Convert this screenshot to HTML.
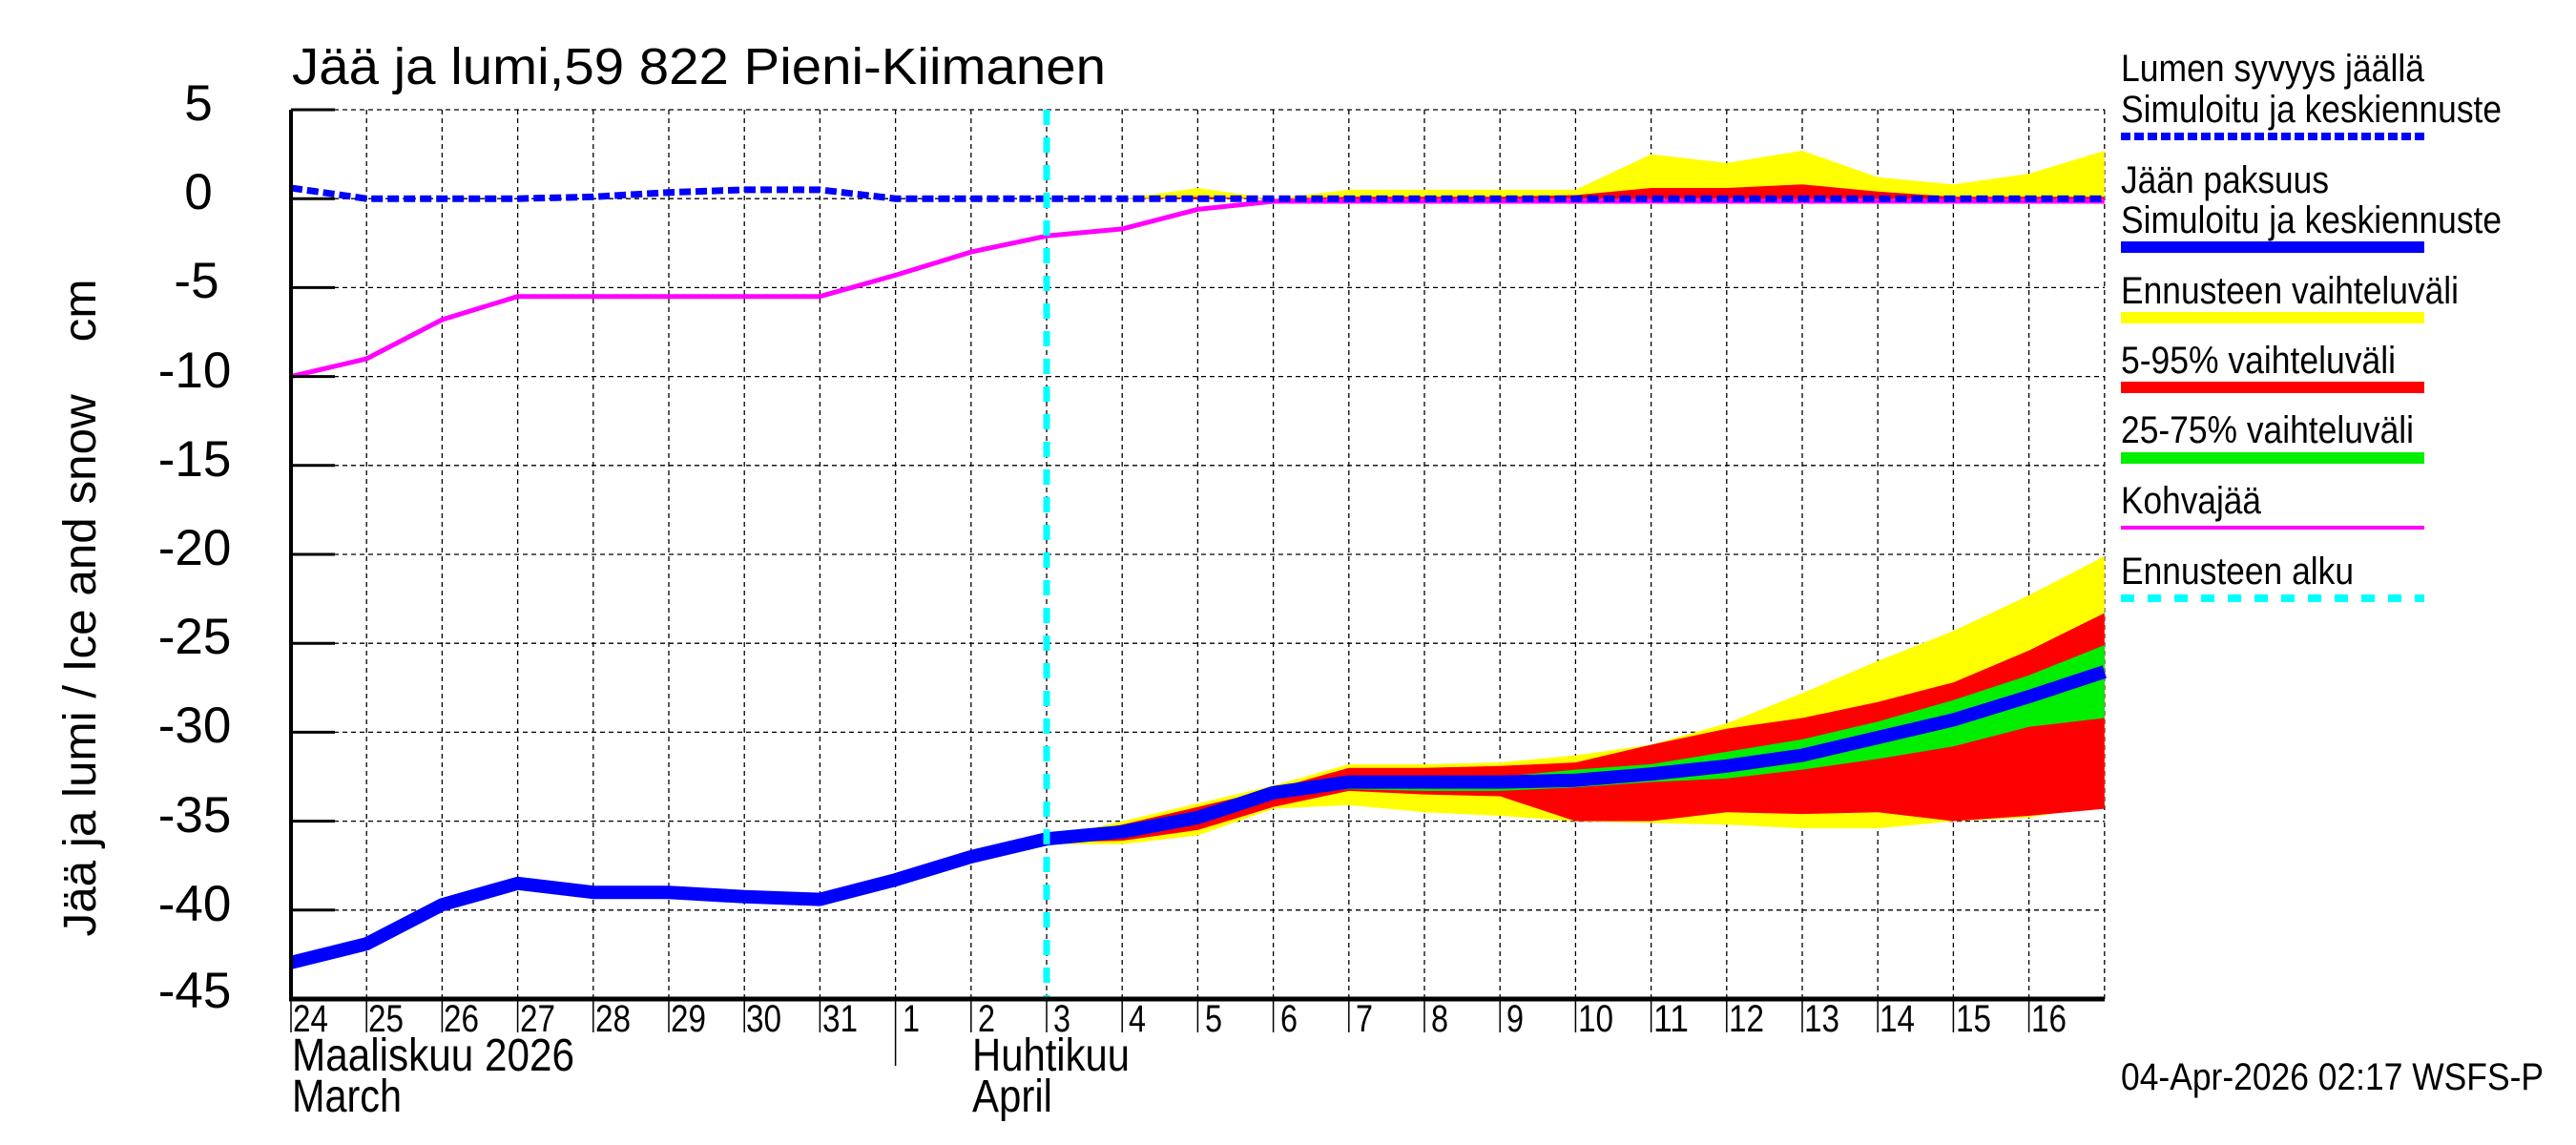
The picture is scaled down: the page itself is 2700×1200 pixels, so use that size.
<!DOCTYPE html>
<html><head><meta charset="utf-8"><style>
html,body{margin:0;padding:0;background:#fff}
svg{display:block}
text{font-family:"Liberation Sans",sans-serif;fill:#000}
</style></head><body>
<svg width="2700" height="1200" viewBox="0 0 2700 1200" xmlns="http://www.w3.org/2000/svg">
<rect width="2700" height="1200" fill="#fff"/>
<g stroke="#000" stroke-width="1.3" stroke-dasharray="5,4">
<line x1="384.2" y1="115" x2="384.2" y2="1047"/><line x1="463.4" y1="115" x2="463.4" y2="1047"/><line x1="542.6" y1="115" x2="542.6" y2="1047"/><line x1="621.8" y1="115" x2="621.8" y2="1047"/><line x1="701" y1="115" x2="701" y2="1047"/><line x1="780.2" y1="115" x2="780.2" y2="1047"/><line x1="859.4" y1="115" x2="859.4" y2="1047"/><line x1="938.6" y1="115" x2="938.6" y2="1047"/><line x1="1017.8" y1="115" x2="1017.8" y2="1047"/><line x1="1097" y1="115" x2="1097" y2="1047"/><line x1="1176.2" y1="115" x2="1176.2" y2="1047"/><line x1="1255.4" y1="115" x2="1255.4" y2="1047"/><line x1="1334.6" y1="115" x2="1334.6" y2="1047"/><line x1="1413.8" y1="115" x2="1413.8" y2="1047"/><line x1="1493" y1="115" x2="1493" y2="1047"/><line x1="1572.2" y1="115" x2="1572.2" y2="1047"/><line x1="1651.4" y1="115" x2="1651.4" y2="1047"/><line x1="1730.6" y1="115" x2="1730.6" y2="1047"/><line x1="1809.8" y1="115" x2="1809.8" y2="1047"/><line x1="1889" y1="115" x2="1889" y2="1047"/><line x1="1968.2" y1="115" x2="1968.2" y2="1047"/><line x1="2047.4" y1="115" x2="2047.4" y2="1047"/><line x1="2126.6" y1="115" x2="2126.6" y2="1047"/><line x1="2205.8" y1="115" x2="2205.8" y2="1047"/>
<line x1="305" y1="115" x2="2206" y2="115"/><line x1="305" y1="208.2" x2="2206" y2="208.2"/><line x1="305" y1="301.4" x2="2206" y2="301.4"/><line x1="305" y1="394.6" x2="2206" y2="394.6"/><line x1="305" y1="487.8" x2="2206" y2="487.8"/><line x1="305" y1="581" x2="2206" y2="581"/><line x1="305" y1="674.2" x2="2206" y2="674.2"/><line x1="305" y1="767.4" x2="2206" y2="767.4"/><line x1="305" y1="860.6" x2="2206" y2="860.6"/><line x1="305" y1="953.8" x2="2206" y2="953.8"/>
</g>
<polygon fill="#ffff00" points="1097,208.2 1176.2,208.2 1255.4,197 1334.6,208.2 1413.8,198.9 1493,198.9 1572.2,198.9 1651.4,198.9 1730.6,161.6 1809.8,170.9 1889,157.9 1968.2,185.8 2047.4,193.3 2126.6,182.1 2205.8,157.9 2205.8,208.2 1097,208.2"/>
<polygon fill="#ff0000" points="1097,208.2 1176.2,208.2 1255.4,206.3 1334.6,208.2 1413.8,206.3 1493,206.3 1572.2,206.3 1651.4,204.5 1730.6,197 1809.8,197 1889,193.3 1968.2,200.7 2047.4,206.3 2126.6,206.3 2205.8,206.3 2205.8,208.2 1097,208.2"/>
<polygon fill="#ffff00" points="1097,879.2 1176.2,860.6 1255.4,842 1334.6,823.3 1413.8,801 1493,801 1572.2,799.1 1651.4,791.6 1730.6,780.5 1809.8,758.1 1889,726.4 1968.2,692.8 2047.4,661.2 2126.6,623.9 2205.8,582.9 2205.8,843.8 2126.6,856.9 2047.4,860.6 1968.2,868.1 1889,868.1 1809.8,864.3 1730.6,862.5 1651.4,860.6 1572.2,855 1493,851.3 1413.8,843.8 1334.6,847.6 1255.4,875.5 1176.2,884.8 1097,884.8"/>
<polygon fill="#ff0000" points="1097,879.2 1176.2,864.3 1255.4,845.7 1334.6,827.1 1413.8,804.7 1493,804.7 1572.2,802.8 1651.4,799.1 1730.6,780.5 1809.8,763.7 1889,752.5 1968.2,735.7 2047.4,715.2 2126.6,681.7 2205.8,642.5 2205.8,847.6 2126.6,855 2047.4,860.6 1968.2,851.3 1889,853.1 1809.8,851.3 1730.6,860.6 1651.4,860.6 1572.2,834.5 1493,832.6 1413.8,828.9 1334.6,845.7 1255.4,869.9 1176.2,881.1 1097,883"/>
<polygon fill="#00ee00" points="1097,879.2 1176.2,869.9 1255.4,851.3 1334.6,828.9 1413.8,814 1493,815.9 1572.2,814 1651.4,806.6 1730.6,800.9 1809.8,787.9 1889,774.9 1968.2,756.2 2047.4,733.8 2126.6,707.8 2205.8,676.1 2205.8,752.5 2126.6,761.8 2047.4,782.3 1968.2,795.4 1889,806.6 1809.8,815.9 1730.6,819.6 1651.4,825.2 1572.2,828.9 1493,828.9 1413.8,827.1 1334.6,834.5 1255.4,860.6 1176.2,875.5 1097,879.2"/>
<polyline fill="none" stroke="#ff00ff" stroke-width="5" stroke-linejoin="round" points="305,394.6 384.2,376 463.4,335 542.6,310.7 621.8,310.7 701,310.7 780.2,310.7 859.4,310.7 938.6,288.4 1017.8,264.1 1097,247.3 1176.2,239.9 1255.4,219.4 1334.6,211 2205.8,211"/>
<polyline fill="none" stroke="#0000ff" stroke-width="7" stroke-dasharray="12,5" points="305,197 384.2,208.2 463.4,208.2 542.6,208.2 621.8,206.3 701,201.7 780.2,198.9 859.4,198.9 938.6,208.2 2205.8,208.2"/>
<polyline fill="none" stroke="#0000ff" stroke-width="14" stroke-linejoin="round" points="305,1008.8 384.2,989.2 463.4,948.2 542.6,925.8 621.8,935.2 701,935.2 780.2,939.8 859.4,942.6 938.6,922.1 1017.8,897.9 1097,879.2 1176.2,871.8 1255.4,856.9 1334.6,830.8 1413.8,819.6 1493,819.6 1572.2,819.6 1651.4,817.7 1730.6,811.2 1809.8,802.8 1889,791.6 1968.2,773 2047.4,754.4 2126.6,730.1 2205.8,704"/>
<line x1="1097" y1="115" x2="1097" y2="1047" stroke="#00ffff" stroke-width="7" stroke-dasharray="16,13"/>
<line x1="305" y1="115" x2="305" y2="1049" stroke="#000" stroke-width="4"/>
<line x1="303" y1="1047" x2="2206" y2="1047" stroke="#000" stroke-width="5"/>
<g stroke="#000" stroke-width="3">
<line x1="305" y1="115" x2="351" y2="115"/><line x1="305" y1="208.2" x2="351" y2="208.2"/><line x1="305" y1="301.4" x2="351" y2="301.4"/><line x1="305" y1="394.6" x2="351" y2="394.6"/><line x1="305" y1="487.8" x2="351" y2="487.8"/><line x1="305" y1="581" x2="351" y2="581"/><line x1="305" y1="674.2" x2="351" y2="674.2"/><line x1="305" y1="767.4" x2="351" y2="767.4"/><line x1="305" y1="860.6" x2="351" y2="860.6"/><line x1="305" y1="953.8" x2="351" y2="953.8"/>
</g>
<g font-size="53" text-anchor="middle">
<text x="208" y="126">5</text><text x="208" y="219">0</text><text x="206" y="312">-5</text><text x="204" y="406">-10</text><text x="204" y="499">-15</text><text x="204" y="592">-20</text><text x="204" y="685">-25</text><text x="204" y="778">-30</text><text x="204" y="872">-35</text><text x="204" y="965">-40</text><text x="204" y="1056">-45</text>
</g>
<g stroke="#000" stroke-width="1.5">
<line x1="305" y1="1047" x2="305" y2="1082"/><line x1="384.2" y1="1047" x2="384.2" y2="1082"/><line x1="463.4" y1="1047" x2="463.4" y2="1082"/><line x1="542.6" y1="1047" x2="542.6" y2="1082"/><line x1="621.8" y1="1047" x2="621.8" y2="1082"/><line x1="701" y1="1047" x2="701" y2="1082"/><line x1="780.2" y1="1047" x2="780.2" y2="1082"/><line x1="859.4" y1="1047" x2="859.4" y2="1082"/><line x1="938.6" y1="1047" x2="938.6" y2="1117"/><line x1="1017.8" y1="1047" x2="1017.8" y2="1082"/><line x1="1097" y1="1047" x2="1097" y2="1082"/><line x1="1176.2" y1="1047" x2="1176.2" y2="1082"/><line x1="1255.4" y1="1047" x2="1255.4" y2="1082"/><line x1="1334.6" y1="1047" x2="1334.6" y2="1082"/><line x1="1413.8" y1="1047" x2="1413.8" y2="1082"/><line x1="1493" y1="1047" x2="1493" y2="1082"/><line x1="1572.2" y1="1047" x2="1572.2" y2="1082"/><line x1="1651.4" y1="1047" x2="1651.4" y2="1082"/><line x1="1730.6" y1="1047" x2="1730.6" y2="1082"/><line x1="1809.8" y1="1047" x2="1809.8" y2="1082"/><line x1="1889" y1="1047" x2="1889" y2="1082"/><line x1="1968.2" y1="1047" x2="1968.2" y2="1082"/><line x1="2047.4" y1="1047" x2="2047.4" y2="1082"/><line x1="2126.6" y1="1047" x2="2126.6" y2="1082"/>
</g>
<g font-size="40">
<text x="307" y="1081" textLength="37" lengthAdjust="spacingAndGlyphs">24</text><text x="386" y="1081" textLength="37" lengthAdjust="spacingAndGlyphs">25</text><text x="465" y="1081" textLength="37" lengthAdjust="spacingAndGlyphs">26</text><text x="545" y="1081" textLength="37" lengthAdjust="spacingAndGlyphs">27</text><text x="624" y="1081" textLength="37" lengthAdjust="spacingAndGlyphs">28</text><text x="703" y="1081" textLength="37" lengthAdjust="spacingAndGlyphs">29</text><text x="782" y="1081" textLength="37" lengthAdjust="spacingAndGlyphs">30</text><text x="862" y="1081" textLength="37" lengthAdjust="spacingAndGlyphs">31</text><text x="946" y="1081" textLength="18" lengthAdjust="spacingAndGlyphs">1</text><text x="1025" y="1081" textLength="18" lengthAdjust="spacingAndGlyphs">2</text><text x="1104" y="1081" textLength="18" lengthAdjust="spacingAndGlyphs">3</text><text x="1183" y="1081" textLength="18" lengthAdjust="spacingAndGlyphs">4</text><text x="1263" y="1081" textLength="18" lengthAdjust="spacingAndGlyphs">5</text><text x="1342" y="1081" textLength="18" lengthAdjust="spacingAndGlyphs">6</text><text x="1421" y="1081" textLength="18" lengthAdjust="spacingAndGlyphs">7</text><text x="1500" y="1081" textLength="18" lengthAdjust="spacingAndGlyphs">8</text><text x="1579" y="1081" textLength="18" lengthAdjust="spacingAndGlyphs">9</text><text x="1654" y="1081" textLength="37" lengthAdjust="spacingAndGlyphs">10</text><text x="1733" y="1081" textLength="37" lengthAdjust="spacingAndGlyphs">11</text><text x="1812" y="1081" textLength="37" lengthAdjust="spacingAndGlyphs">12</text><text x="1891" y="1081" textLength="37" lengthAdjust="spacingAndGlyphs">13</text><text x="1970" y="1081" textLength="37" lengthAdjust="spacingAndGlyphs">14</text><text x="2050" y="1081" textLength="37" lengthAdjust="spacingAndGlyphs">15</text><text x="2129" y="1081" textLength="37" lengthAdjust="spacingAndGlyphs">16</text>
</g>
<g font-size="48">
<text x="306" y="1122" textLength="296" lengthAdjust="spacingAndGlyphs">Maaliskuu 2026</text><text x="306" y="1165" textLength="115" lengthAdjust="spacingAndGlyphs">March</text>
<text x="1019" y="1122" textLength="165" lengthAdjust="spacingAndGlyphs">Huhtikuu</text><text x="1019" y="1165" textLength="84" lengthAdjust="spacingAndGlyphs">April</text>
</g>
<text x="306" y="88" font-size="54" textLength="853" lengthAdjust="spacingAndGlyphs">Jää ja lumi,59 822 Pieni-Kiimanen</text>
<text transform="translate(100,637) rotate(-90)" font-size="48" text-anchor="middle" xml:space="preserve" textLength="689" lengthAdjust="spacingAndGlyphs">Jää ja lumi / Ice and snow    cm</text>
<g font-size="40">
<text x="2223" y="85" textLength="318" lengthAdjust="spacingAndGlyphs">Lumen syvyys jäällä</text><text x="2223" y="128" textLength="399" lengthAdjust="spacingAndGlyphs">Simuloitu ja keskiennuste</text>
<text x="2223" y="202" textLength="218" lengthAdjust="spacingAndGlyphs">Jään paksuus</text><text x="2223" y="244" textLength="399" lengthAdjust="spacingAndGlyphs">Simuloitu ja keskiennuste</text>
<text x="2223" y="318" textLength="354" lengthAdjust="spacingAndGlyphs">Ennusteen vaihteluväli</text>
<text x="2223" y="391" textLength="288" lengthAdjust="spacingAndGlyphs">5-95% vaihteluväli</text>
<text x="2223" y="464" textLength="307" lengthAdjust="spacingAndGlyphs">25-75% vaihteluväli</text>
<text x="2223" y="538" textLength="147" lengthAdjust="spacingAndGlyphs">Kohvajää</text>
<text x="2223" y="612" textLength="244" lengthAdjust="spacingAndGlyphs">Ennusteen alku</text>
</g>
<line x1="2223" y1="143" x2="2541" y2="143" stroke="#0000ff" stroke-width="8" stroke-dasharray="10,4"/>
<line x1="2223" y1="259" x2="2541" y2="259" stroke="#0000ff" stroke-width="12"/>
<line x1="2223" y1="333" x2="2541" y2="333" stroke="#ffff00" stroke-width="12"/>
<line x1="2223" y1="406" x2="2541" y2="406" stroke="#ff0000" stroke-width="12"/>
<line x1="2223" y1="480" x2="2541" y2="480" stroke="#00ee00" stroke-width="12"/>
<line x1="2223" y1="553" x2="2541" y2="553" stroke="#ff00ff" stroke-width="4"/>
<line x1="2223" y1="627" x2="2541" y2="627" stroke="#00ffff" stroke-width="8" stroke-dasharray="14,14"/>
<text x="2223" y="1142" font-size="40" textLength="443" lengthAdjust="spacingAndGlyphs">04-Apr-2026 02:17 WSFS-P</text>
</svg>
</body></html>
